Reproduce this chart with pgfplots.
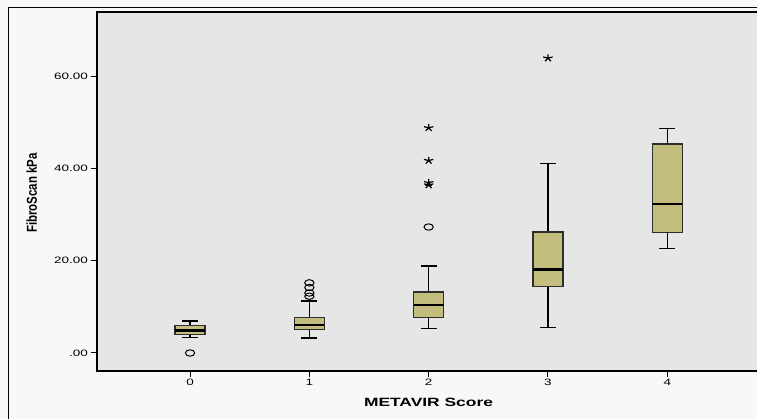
\documentclass[border=0pt]{standalone}
\usepackage{fontspec}
\setmainfont{Liberation Sans}
\newfontfamily\wide{Liberation Sans}[FakeStretch=1.45]
\usepackage{pgfplots}
\pgfplotsset{compat=1.18}
\usepgfplotslibrary{statistics}
\definecolor{outerbg}{HTML}{F8F8F8}
\definecolor{plotbg}{HTML}{E6E6E6}
\definecolor{boxfill}{HTML}{C3BE7D}
\definecolor{boxedge}{HTML}{2E2E2E}
\definecolor{axgray}{HTML}{6E6E6E}
\begin{document}
\begin{tikzpicture}
\path[use as bounding box, fill=outerbg] (0pt,0pt) rectangle (757pt,419pt);
\draw[black, line width=1pt] (8pt,-20pt) -- (8pt,411pt) -- (800pt,411pt);
\begin{axis}[
  at={(97pt,48pt)}, anchor=south west,
  scale only axis, width=680pt, height=359pt,
  xmin=-0.78, xmax=4.92, ymin=-3.9, ymax=73.9,
  axis background/.style={fill=plotbg},
  x axis line style={draw=axgray, line width=1.3pt},
  y axis line style={draw=black, line width=1.3pt},
  xtick={0,1,2,3,4}, xticklabels={0,1,2,3,4},
  ytick={0,20,40,60}, yticklabels={.00,20.00,40.00,60.00},
  xtick pos=left, ytick pos=left, tick align=outside,
  major tick length=6pt,
  tick style={black, line width=1pt},
  ticklabel style={font=\wide\fontsize{9.3}{10}\selectfont, text=black},
  yticklabel style={inner sep=1pt, xshift=-2pt},
  xticklabel style={inner sep=1.5pt},
  boxplot/draw direction=y,
  boxplot/every box/.style={draw=boxedge, line width=1.3pt, fill=boxfill},
  boxplot/every median/.style={draw=black, line width=2.3pt},
  boxplot/every whisker/.style={draw=black, line width=1.3pt},
  boxplot/box extend=0.25,
  boxplot/whisker extend=0.135,
]
\addplot[boxplot prepared={draw position=0, lower whisker=3.3, lower quartile=4.05, median=4.9, upper quartile=5.9, upper whisker=6.93}] coordinates {};
\addplot[boxplot prepared={draw position=1, lower whisker=3.25, lower quartile=5.13, median=6.07, upper quartile=7.65, upper whisker=11.27}] coordinates {};
\addplot[boxplot prepared={draw position=2, lower whisker=5.35, lower quartile=7.73, median=10.4, upper quartile=13.22, upper whisker=18.85}] coordinates {};
\addplot[boxplot prepared={draw position=3, lower whisker=5.5, lower quartile=14.45, median=18.1, upper quartile=26.2, upper whisker=41.1}] coordinates {};
\addplot[boxplot prepared={draw position=4, lower whisker=22.6, lower quartile=26.1, median=32.35, upper quartile=45.3, upper whisker=48.7}] coordinates {};
\addplot[only marks, mark=o, mark size=3.2pt, mark options={xscale=1.45, line width=1pt, draw=black}] coordinates {(0,0.0) (1,15.2) (1,14.2) (1,13.0) (1,12.3) (2,27.3)};
\addplot[only marks, mark=star, mark size=3.8pt, mark options={xscale=1.3, line width=1.2pt, draw=black}] coordinates {(2,48.8) (2,41.7) (2,36.4) (2,36.9) (3,63.9)};
\end{axis}
\node[rotate=90, font=\bfseries\fontsize{11.5}{13}\selectfont] at (31.7pt,226pt) {\scalebox{1}[1.25]{FibroScan kPa}};
\node[font=\wide\bfseries\fontsize{12}{14}\selectfont] at (428.5pt,16.3pt) {METAVIR Score};
\end{tikzpicture}
\end{document}
